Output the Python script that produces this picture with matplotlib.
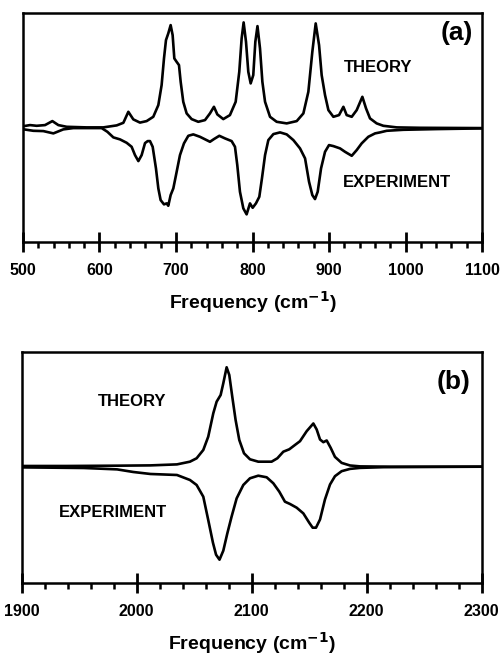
import matplotlib
matplotlib.use("Agg")
import matplotlib.pyplot as plt
import numpy as np

plt.rcParams['font.family'] = ['Liberation Sans', 'DejaVu Sans']
plt.rcParams['font.weight'] = 'bold'
plt.rcParams['mathtext.default'] = 'bf'

# Panel (a): 500-1100 cm-1
theory_a_x = [500, 501.3, 509.2, 517.9, 528.8, 538.4, 546.2, 557.1, 583.2, 605, 622.5, 631.2,
              637.7, 644.2, 652.9, 661.6, 670.3, 676.9, 681.2, 684.3, 686.9, 689.9, 693, 695.6,
              697.8, 700.8, 703.9, 706.1, 709.5, 713.9, 720.4, 729.1, 737.9, 744.4, 749.6, 754,
              761.8, 770.5, 778, 782.7, 785.8, 788.4, 791.5, 794.5, 797.6, 801, 803.7, 806.5,
              809.8, 812.9, 816.4, 822.9, 831.6, 844.7, 857.8, 866.5, 873, 878.2, 882.6, 887,
              890.4, 894.8, 899.2, 905.7, 913.1, 918.8, 923.1, 929.7, 936.2, 943.6, 948.4, 953.6,
              962.3, 971, 988.5, 1019, 1100]
theory_a_y = [2, 2, 3, 2.3, 3, 7, 3, 1.3, 0.7, 0.7, 2.7, 5.3,
              16.3, 8.7, 5.5, 7, 11.3, 23, 43, 69.7, 88, 94.7, 103, 93,
              69.7, 66.3, 63, 46.3, 26.3, 14.7, 9, 6.3, 8, 14.7, 21.3, 13.7,
              9, 13, 26.3, 56.3, 89.7, 105.7, 86.3, 56.3, 44.7, 53, 86.3, 102,
              79.7, 46.3, 26.3, 11.3, 6.3, 4.7, 7, 14.7, 36.3, 76.3, 104.7, 83,
              53, 33, 18, 11.3, 13, 21.3, 13, 11.3, 18, 31.3, 19.7, 9.7,
              4.7, 2.3, 0.7, 0.3, 0]

exp_a_x = [500, 501.3, 513.5, 526.6, 539.7, 552.7, 565.8, 602.8, 610.3, 618.1, 626.8, 635.5,
           642, 646.4, 650.8, 655.1, 659.5, 663, 666, 669.5, 673.8, 676.9, 679.9, 684.3,
           687.8, 689.9, 693, 696.5, 700, 705.2, 710.4, 716.1, 722.6, 731.3, 744.4, 749.6,
           756.6, 764, 772.7, 777.1, 780.1, 783.6, 788, 792.3, 796.7, 800.2, 804.5, 808.9,
           812.4, 816.4, 820.7, 827.3, 836, 844.7, 853.4, 862.1, 868.7, 873.9, 878.2, 881.7,
           885.2, 889.6, 894.8, 900, 905.7, 914.4, 920.9, 929.7, 936.2, 942.7, 951.4, 960.2,
           966.7, 975.4, 997.2, 1040.7, 1100]
exp_a_y = [-1.3, -1.3, -2.7, -3, -5.3, -1.3, 0, 0, -3.7, -9.3, -11.3, -14.7,
           -18.7, -27, -33, -27, -15, -13, -13, -18.7, -40.3, -60.3, -72, -76.3,
           -75.3, -77.7, -67, -60.3, -47, -27, -15.3, -7.7, -6.3, -8.7, -13.7, -11,
           -7.7, -10.3, -13, -18.7, -37, -63.7, -80.3, -86.3, -75.3, -79.7, -75.3, -68.7,
           -50, -27, -12, -6, -4.3, -6.3, -12, -20.3, -30.3, -53.7, -67, -71,
           -63.7, -40.3, -23.7, -17, -18, -20.3, -23.7, -27.7, -22, -15.3, -8.7, -5.3,
           -4.3, -2.7, -1.7, -1, -0.3]

# Panel (b): 1900-2300 cm-1
theory_b_x = [1900, 1939, 1983, 2012, 2035, 2046.3, 2052.1, 2057.9, 2062.2, 2066.6, 2069.5,
              2073, 2075.3, 2078.2, 2080.5, 2083.1, 2086, 2089.2, 2093.3, 2098.5, 2105.7,
              2117.3, 2122.3, 2127.5, 2132.7, 2137.6, 2142, 2147.8, 2153.6, 2156.5, 2159.4,
              2162.3, 2165.2, 2168.7, 2172.4, 2178.2, 2185.5, 2194.2, 2220, 2300]
theory_b_y = [0.7, 0.7, 1, 1.3, 2.3, 5, 8.4, 16.7, 30, 53.4, 65,
              71.7, 83.4, 99.4, 91.7, 70, 46.7, 26.7, 13.4, 7.4, 5,
              5, 8.4, 15, 17.4, 21.7, 25.5, 35.5, 43.2, 37.2, 27.2,
              24.5, 26.2, 18.8, 9.8, 3.8, 1.2, 0.3, 0, 0]

exp_b_x = [1900, 1954, 1983, 1997, 2012, 2035, 2046.3, 2052.1, 2057.9, 2062.2, 2066.3,
           2069, 2072, 2075.3, 2078.8, 2082.5, 2086.9, 2092.7, 2098.5, 2105.7, 2113,
           2118.8, 2124, 2128.9, 2133.3, 2139.1, 2144.9, 2150, 2153, 2155.9, 2159.4,
           2163.7, 2168.1, 2172.4, 2178.2, 2185.5, 2194.2, 2214.5, 2300]
exp_b_y = [-0.7, -1.3, -2.7, -5.3, -7.3, -8.3, -13.3, -18.3, -30, -53.3, -76,
           -88, -93, -84, -66.7, -50, -31.7, -18.3, -11.6, -9, -10.6,
           -16.6, -25, -35, -37.3, -41, -46.7, -56, -61, -61, -52.8,
           -32.8, -17.8, -9.5, -4.5, -2.2, -1.2, -0.5, 0]

label_a = "(a)"
label_b = "(b)"
series_labels = ["THEORY", "EXPERIMENT"]
xlabel = "Frequency (cm$^{\\mathbf{-1}}$)"

fig = plt.figure(figsize=(5.01, 6.56), dpi=100)
ax_a = fig.add_axes([0.0459, 0.631, 0.9162, 0.349])
ax_b = fig.add_axes([0.0433, 0.1113, 0.9182, 0.3526])

def style(ax, xmin, xmax):
    ax.set_xlim(xmin, xmax)
    ax.set_yticks([])
    for s in ax.spines.values():
        s.set_linewidth(1.8)
    majors = np.arange(xmin, xmax + 1, 100)
    ax.set_xticks(majors)
    ax.set_xticks(np.arange(xmin, xmax + 1, 20), minor=True)
    ax.tick_params(axis='x', which='major', direction='inout', length=14, width=2, pad=8)
    ax.tick_params(axis='x', which='minor', direction='out', length=4, width=1.8)
    ax.set_xticklabels([str(int(v)) for v in majors], fontweight='heavy', fontsize=11.5,
                       fontfamily='Liberation Sans')
    ax.set_xlabel(xlabel, fontsize=14, fontweight='bold', labelpad=8)

lw = 1.9
ax_a.plot(theory_a_x, theory_a_y, color='black', lw=lw, solid_joinstyle='round')
ax_a.plot(exp_a_x, exp_a_y, color='black', lw=lw, solid_joinstyle='round')
ax_a.set_ylim(-114, 115)
style(ax_a, 500, 1100)
ax_a.text(0.946, 0.913, label_a, transform=ax_a.transAxes, fontsize=19, fontweight='bold',
          ha='center', va='center')
ax_a.text(0.773, 0.764, series_labels[0], transform=ax_a.transAxes, fontsize=12,
          fontweight='bold', ha='center', va='center')
ax_a.text(0.815, 0.258, series_labels[1], transform=ax_a.transAxes, fontsize=12,
          fontweight='bold', ha='center', va='center')

ax_b.plot(theory_b_x, theory_b_y, color='black', lw=lw, solid_joinstyle='round')
ax_b.plot(exp_b_x, exp_b_y, color='black', lw=lw, solid_joinstyle='round')
ax_b.set_ylim(-116.3, 115)
style(ax_b, 1900, 2300)
ax_b.text(0.938, 0.869, label_b, transform=ax_b.transAxes, fontsize=19, fontweight='bold',
          ha='center', va='center')
ax_b.text(0.240, 0.783, series_labels[0], transform=ax_b.transAxes, fontsize=12,
          fontweight='bold', ha='center', va='center')
ax_b.text(0.198, 0.303, series_labels[1], transform=ax_b.transAxes, fontsize=12,
          fontweight='bold', ha='center', va='center')

fig.savefig("out.png", dpi=100)
